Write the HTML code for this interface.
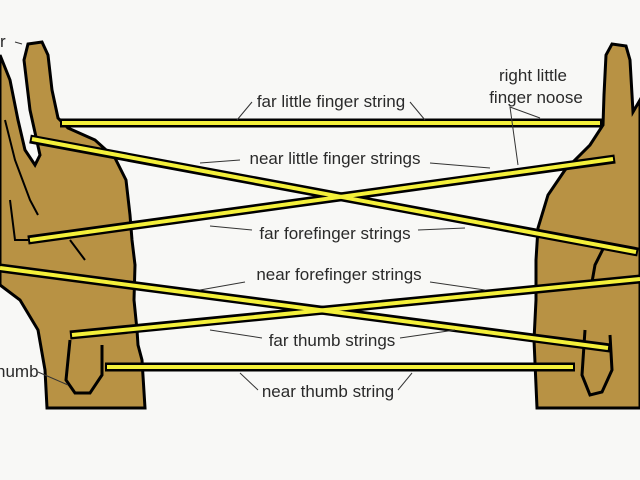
<!DOCTYPE html>
<html><head><meta charset="utf-8"><style>
html,body{margin:0;padding:0;background:#f8f8f6;}
svg{display:block}
text{font-family:"Liberation Sans",sans-serif;font-size:17px;fill:#2a2a2a;}
</style></head><body>
<svg width="640" height="480" viewBox="0 0 640 480">
<rect width="640" height="480" fill="#f8f8f6"/>
<path d="M0,55 L10,80 L18,120 L25,150 L35,165 L40,155 L30,110 L24,60 L28,44 L42,42 L48,55 L52,90 L58,118 L68,128 L95,140 L115,158 L126,180 L130,215 L132,240 L135,265 L134,300 L137,330 L138,345 L142,360 L145,408 L47,408 L45,370 L38,330 L20,300 L0,285 Z" fill="#b89244" stroke="#000" stroke-width="3"/>
<path d="M5,120 L15,160 L30,200 L38,215 M10,200 L15,240 L28,240 M70,240 L85,260" fill="none" stroke="#000" stroke-width="2"/>
<path d="M70,340 L66,380 L75,393 L90,393 L102,375 L102,345" fill="none" stroke="#000" stroke-width="3"/>
<path d="M640,100 L633,112 L630,60 L626,46 L612,44 L606,55 L604,95 L603,125 L590,145 L565,170 L548,195 L538,228 L536,260 L536,300 L534,340 L537,408 L640,408 Z" fill="#b89244" stroke="#000" stroke-width="3"/>
<path d="M605,245 L595,265 L592,282 M585,330 L582,375 L590,395 L602,392 L612,370 L610,335" fill="none" stroke="#000" stroke-width="3"/>
<g stroke-linecap="butt">
<g stroke="#000" stroke-width="9">
<line x1="60" y1="123" x2="602" y2="123"/>
<line x1="30" y1="139" x2="638" y2="252"/>
<line x1="28" y1="240" x2="615" y2="159"/>
<line x1="0" y1="268" x2="610" y2="348"/>
<line x1="70" y1="335" x2="640" y2="279"/>
<line x1="105" y1="367" x2="575" y2="367"/>
</g>
<g stroke="#f4f03a" stroke-width="4">
<line x1="62" y1="123" x2="600" y2="123"/>
<line x1="32" y1="139" x2="636" y2="252"/>
<line x1="30" y1="240" x2="613" y2="159"/>
<line x1="0" y1="268" x2="608" y2="348"/>
<line x1="72" y1="335" x2="640" y2="279"/>
<line x1="107" y1="367" x2="573" y2="367"/>
</g>
</g>
<g stroke="#333" stroke-width="1" fill="none">
<polyline points="237,120 252,102"/>
<polyline points="410,102 425,120"/>
<polyline points="540,118 510,107 518,165"/>
<polyline points="200,163 240,160"/>
<polyline points="430,163 490,168"/>
<polyline points="210,226 252,230"/>
<polyline points="418,230 465,228"/>
<polyline points="200,290 245,282"/>
<polyline points="430,282 485,290"/>
<polyline points="210,330 262,338"/>
<polyline points="400,338 455,330"/>
<polyline points="240,373 258,390"/>
<polyline points="398,390 412,373"/>
<polyline points="15,42 22,44"/>
<polyline points="38,372 68,385"/>
</g>
<text x="331" y="107" text-anchor="middle">far little finger string</text>
<text x="533" y="81" text-anchor="middle">right little</text>
<text x="536" y="103" text-anchor="middle">finger noose</text>
<text x="335" y="164" text-anchor="middle">near little finger strings</text>
<text x="335" y="239" text-anchor="middle">far forefinger strings</text>
<text x="339" y="280" text-anchor="middle">near forefinger strings</text>
<text x="332" y="346" text-anchor="middle">far thumb strings</text>
<text x="328" y="397" text-anchor="middle">near thumb string</text>
<text x="0" y="47">r</text>
<text x="-4" y="377">humb</text>
</svg>
</body></html>
